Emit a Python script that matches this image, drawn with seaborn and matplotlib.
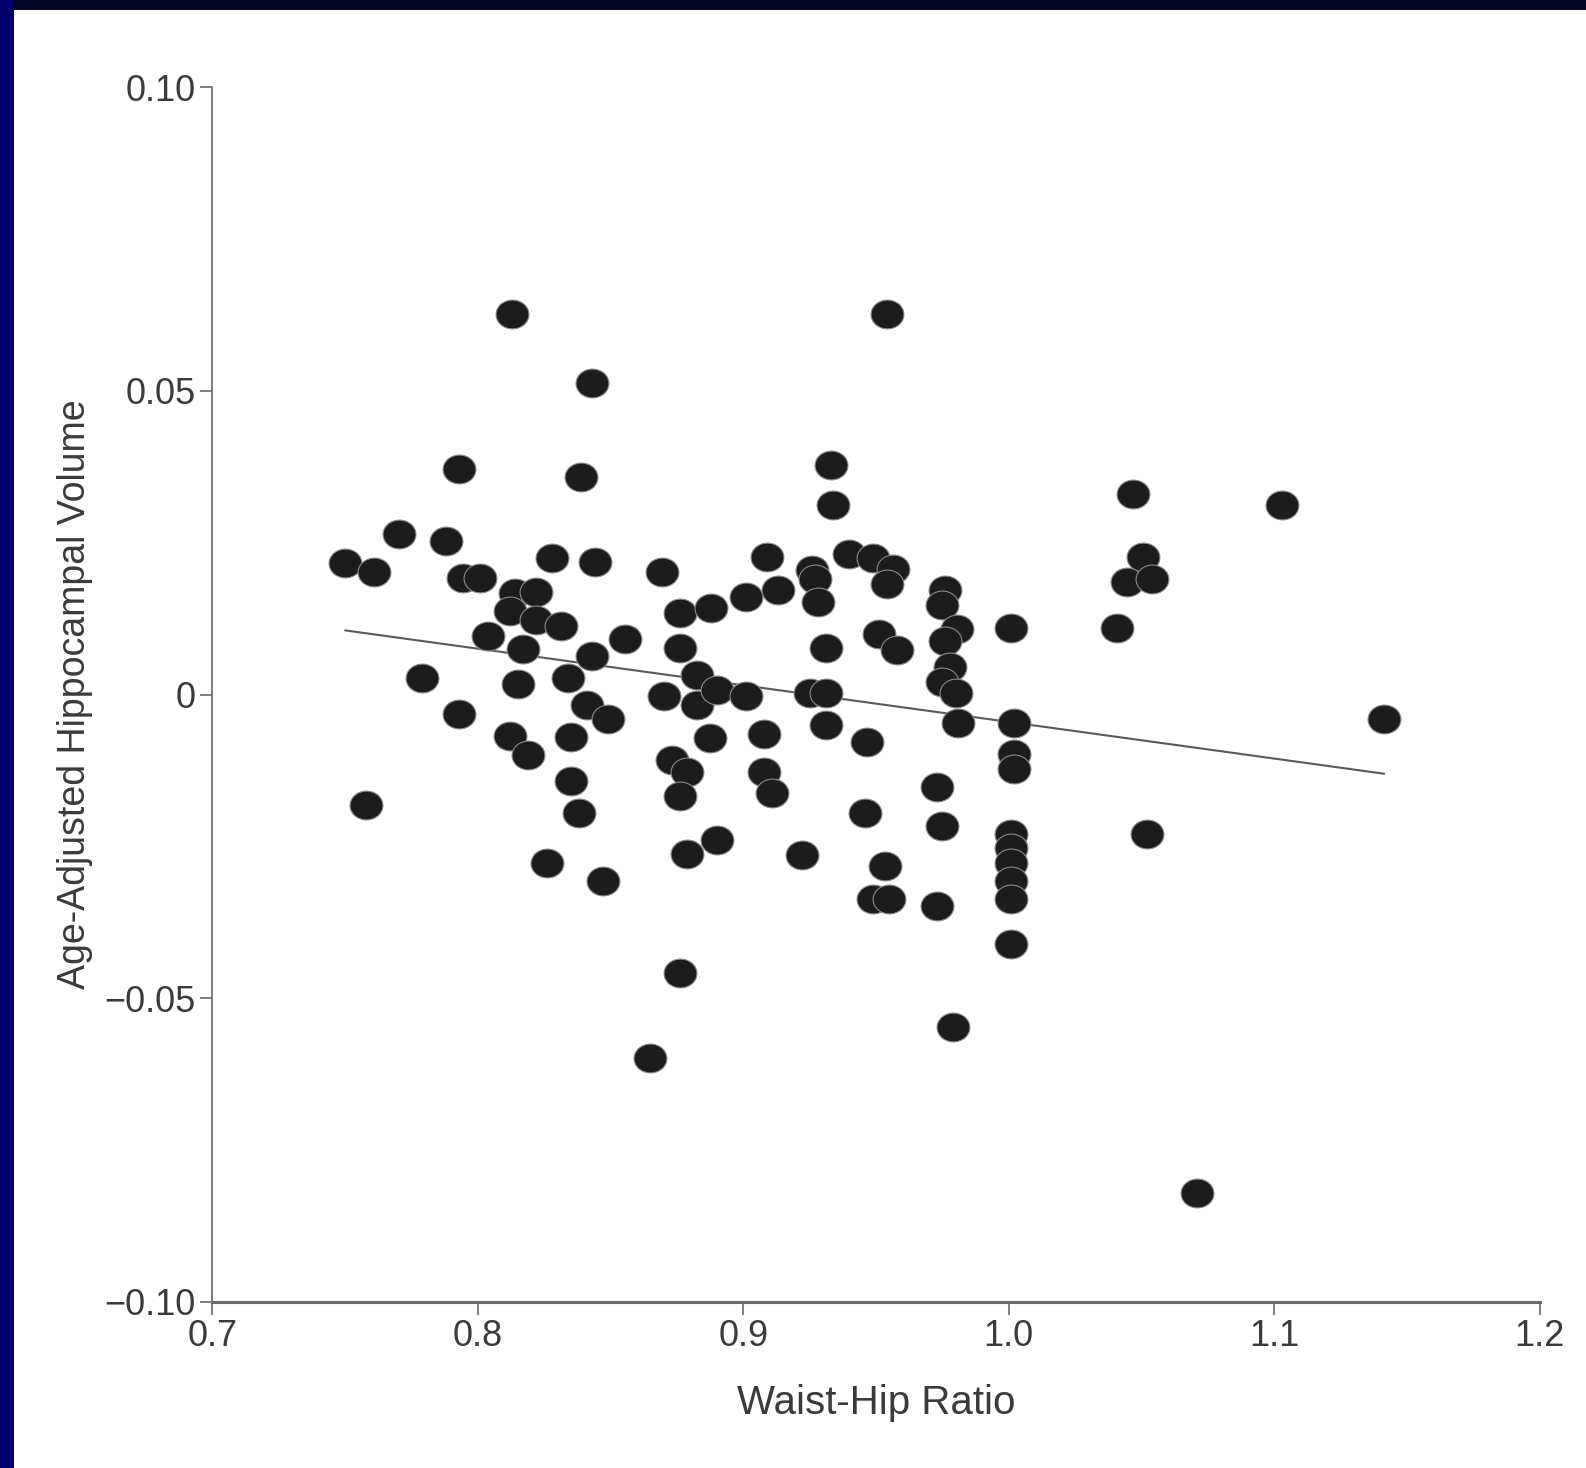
import numpy as np
import pandas as pd
import matplotlib
matplotlib.use("Agg")
import matplotlib.pyplot as plt
from matplotlib.path import Path
from matplotlib.patches import Rectangle
import seaborn as sns

# Waist-hip ratio and age-adjusted hippocampal volume per participant
waist_hip_ratio = [
    0.750, 0.761, 0.7705, 0.788, 0.793, 0.779, 0.793, 0.758,
    0.813, 0.843, 0.839, 0.7945, 0.801, 0.804, 0.814, 0.822,
    0.812, 0.822, 0.817, 0.828, 0.8315, 0.844, 0.843, 0.8555,
    0.815, 0.834, 0.841, 0.849, 0.812, 0.819, 0.835, 0.835,
    0.838, 0.826, 0.847,
    0.8695, 0.876, 0.888, 0.876, 0.8825, 0.870, 0.8825, 0.890,
    0.901, 0.8875, 0.873, 0.879, 0.876, 0.879, 0.890, 0.876, 0.865,
    0.901, 0.909, 0.913, 0.908, 0.908, 0.911, 0.922,
    0.926, 0.927, 0.928, 0.933, 0.934, 0.931, 0.925, 0.931, 0.931,
    0.940, 0.949, 0.9565, 0.954, 0.951, 0.958, 0.9465, 0.946,
    0.9535, 0.949, 0.955, 0.954,
    0.976, 0.975, 0.9805, 0.976, 0.978, 0.975, 0.980, 0.981,
    0.973, 0.975, 0.973, 0.979,
    1.0007, 1.002, 1.002, 1.002, 1.001, 1.001, 1.001, 1.001, 1.001, 1.0007,
    1.041, 1.047, 1.0505, 1.0445, 1.054, 1.052, 1.071, 1.103, 1.1415,
]
hippocampal_volume = [
    0.0217, 0.0202, 0.0265, 0.0253, 0.0372, 0.0028, -0.0032, -0.0182,
    0.0627, 0.0512, 0.0358, 0.0192, 0.0192, 0.0097, 0.0167, 0.0168,
    0.0138, 0.0122, 0.0075, 0.0225, 0.0113, 0.0218, 0.0063, 0.0092,
    0.0017, 0.0027, -0.0018, -0.0040, -0.0068, -0.0100, -0.0070, -0.0142,
    -0.0195, -0.0277, -0.0307,
    0.0202, 0.0135, 0.0142, 0.0077, 0.0032, -0.0002, -0.0018, 0.0007,
    -0.0003, -0.0072, -0.0108, -0.0128, -0.0167, -0.0262, -0.0240, -0.0458, -0.0598,
    0.0160, 0.0227, 0.0172, -0.0065, -0.0128, -0.0162, -0.0265,
    0.0205, 0.0190, 0.0153, 0.0377, 0.0312, 0.0077, 0.0002, 0.0002, -0.0050,
    0.0232, 0.0225, 0.0207, 0.0182, 0.0100, 0.0073, -0.0078, -0.0195,
    -0.0282, -0.0337, -0.0337, 0.0627,
    0.0172, 0.0147, 0.0108, 0.0088, 0.0045, 0.0020, 0.0002, -0.0047,
    -0.0153, -0.0217, -0.0348, -0.0548,
    0.0110, -0.0047, -0.0098, -0.0123, -0.0230, -0.0252, -0.0278, -0.0307, -0.0337, -0.0410,
    0.0110, 0.0330, 0.0227, 0.0185, 0.0190, -0.0230, -0.0820, 0.0312, -0.0040,
]

x_ticks = [0.7, 0.8, 0.9, 1.0, 1.1, 1.2]
x_tick_labels = ["0.7", "0.8", "0.9", "1.0", "1.1", "1.2"]
y_ticks = [0.10, 0.05, 0.0, -0.05, -0.10]
y_tick_labels = ["0.10", "0.05", "0", "\u22120.05", "\u22120.10"]

df = pd.DataFrame({"Waist-Hip Ratio": waist_hip_ratio,
                   "Age-Adjusted Hippocampal Volume": hippocampal_volume})

sns.set_theme(style="white")
plt.rcParams["font.family"] = ["Liberation Sans Narrow", "Liberation Sans", "DejaVu Sans"]

fig = plt.figure(figsize=(15.86, 14.68), dpi=100, facecolor="white")

# frame strips along the top and left edge
fig.patches.append(Rectangle((0, 0.9935), 1, 0.0065, transform=fig.transFigure,
                             facecolor="#06062a", edgecolor="none", zorder=0))
fig.patches.append(Rectangle((0, 0), 0.0088, 1, transform=fig.transFigure,
                             facecolor="#00006e", edgecolor="none", zorder=0))

ax = fig.add_axes([0.1339, 0.1131, 0.8368, 0.8276])

# slightly wide elliptical marker
circ = Path.unit_circle()
ellipse = Path(circ.vertices * np.array([1.14, 1.0]), circ.codes)

sns.scatterplot(data=df, x="Waist-Hip Ratio", y="Age-Adjusted Hippocampal Volume",
                ax=ax, marker=ellipse, s=560, color="#1c1c1c",
                edgecolor="#8a8a8a", linewidth=0.8, zorder=3)
sns.regplot(data=df, x="Waist-Hip Ratio", y="Age-Adjusted Hippocampal Volume",
            ax=ax, scatter=False, ci=None,
            line_kws={"color": "#5a5a5a", "linewidth": 1.5, "zorder": 2})

ax.set_xlim(0.7, 1.2)
ax.set_ylim(-0.10, 0.10)
ax.set_xticks(x_ticks)
ax.set_xticklabels(x_tick_labels)
ax.set_yticks(y_ticks)
ax.set_yticklabels(y_tick_labels)

for side in ["top", "right"]:
    ax.spines[side].set_visible(False)
for side in ["left", "bottom"]:
    ax.spines[side].set_color("#6a6a6a")
ax.spines["left"].set_linewidth(1.2)
ax.spines["bottom"].set_linewidth(2.2)

ax.tick_params(axis="both", which="major", direction="out", length=9, width=1.2,
               color="#6a6a6a", labelsize=26, labelcolor="#3a3a3a", pad=3,
               bottom=True, left=True)

ax.set_xlabel("Waist-Hip Ratio", fontsize=29, color="#3a3a3a", labelpad=22)
ax.set_ylabel("Age-Adjusted Hippocampal Volume", fontsize=27, color="#3a3a3a", labelpad=8)
ax.set_facecolor("white")

fig.savefig("out.png", dpi=100, facecolor="white")
